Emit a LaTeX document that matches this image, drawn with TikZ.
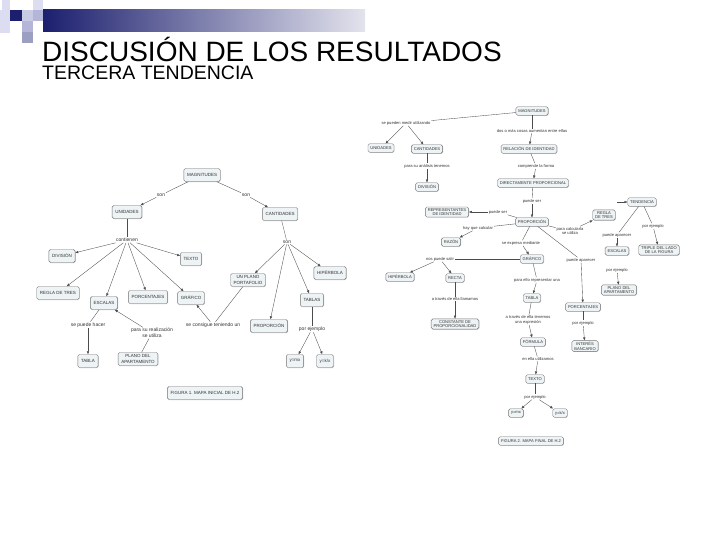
\documentclass[tikz,border=0pt]{standalone}
\usepackage{fontspec}
\setmainfont{Liberation Sans}
\usetikzlibrary{arrows.meta,shadows}
\definecolor{boxfill}{HTML}{EEF3F5}
\definecolor{navy}{HTML}{1C1F6E}
\definecolor{lav}{HTML}{C9CAE4}
\definecolor{lavlt}{HTML}{DCDDF0}
\definecolor{lavmd}{HTML}{B4B5D8}
\definecolor{midg}{HTML}{9C9EC2}
\newcommand\mapL{\fontsize{4.5}{5.2}\selectfont}
\newcommand\lblL{\fontsize{5}{5.8}\selectfont}
\newcommand\mapR{\fontsize{4.1}{4.8}\selectfont}
\tikzset{
  boxbase/.style={draw=black!55, line width=0.4pt, fill=boxfill, rounded corners=1.6pt,
    align=center, text=black!80,
    drop shadow={shadow xshift=0.5pt, shadow yshift=-0.6pt, opacity=0.45}},
  boxL/.style={boxbase, font=\mapL, inner xsep=3.2pt, inner ysep=1.5pt, minimum height=13pt},
  boxR/.style={boxbase, font=\mapR, inner xsep=2.4pt, inner ysep=1.2pt, minimum height=8.5pt},
  lblLs/.style={font=\lblL, inner sep=0.8pt, align=center, text=black!80, fill=white},
  lblRs/.style={font=\mapR, inner sep=0.7pt, align=center, text=black!80, fill=white},
  con/.style={draw=black!70, line width=0.35pt},
  arr/.style={con, -{Latex[length=3pt,width=2.6pt]}},
}
\begin{document}
\begin{tikzpicture}[x=1pt,y=-1pt]
\useasboundingbox (0,0) rectangle (720,540);
\fill[white] (0,0) rectangle (720,540);
% header decoration
\fill[lavlt] (0,10) rectangle (10,33);
\fill[lavlt] (2,0) rectangle (10,10);
\fill[lavlt] (33,0) rectangle (43,10);
\fill[lav] (22,10) rectangle (33,21);
\fill[lavmd] (33,10) rectangle (43,21);
\fill[lavmd] (22,21) rectangle (33,32);
\fill[midg] (22,32) rectangle (33,43);
\fill[navy] (10,10) rectangle (22,21);
\shade[left color=navy, right color=black!8!lav!40] (43,10) rectangle (365,32);
% titles
\node[anchor=base west, inner sep=0, text depth=0pt, font=\fontsize{28}{30}\selectfont] (title) at (42,62) {DISCUSIÓN DE LOS RESULTADOS};
\node[anchor=base west, inner sep=0, text height=14pt, font=\fontsize{19.5}{21}\selectfont] (sub) at (42,80) {TERCERA TENDENCIA};

% ================= LEFT MAP =================
\node[boxL] (mA) at (202,175) {MAGNITUDES};
\node[lblLs] (ls1) at (161,195) {son};
\node[lblLs] (ls2) at (246,195) {son};
\node[boxL] (uA) at (127,212) {UNIDADES};
\node[boxL] (cA) at (280,214) {CANTIDADES};
\node[lblLs] (lcont) at (127,240) {contienen};
\node[boxL] (dA) at (62,256) {DIVISIÓN};
\node[boxL] (tA) at (191,259) {TEXTO};
\node[boxL] (rA) at (58,293) {REGLA DE TRES};
\node[boxL] (eA) at (104,303) {ESCALAS};
\node[boxL] (pA) at (148,297) {PORCENTAJES};
\node[boxL] (gA) at (191,298) {GRÁFICO};
\node[lblLs] (lse) at (287,242) {son};
\node[boxL] (upA) at (248,280) {UN PLANO\\PORTAFOLIO};
\node[boxL] (hA) at (330,273) {HIPÉRBOLA};
\node[boxL] (tbA) at (312,300) {TABLAS};
\node[boxL] (prA) at (269,326) {PROPORCIÓN};
\node[lblLs] (lhac) at (88,325) {se puede hacer};
\node[lblLs] (lreal) at (152,333) {para su realización\\se utiliza};
\node[lblLs] (lcons) at (213,325) {se consigue teniendo un};
\node[lblLs] (lej) at (312,329) {por ejemplo};
\node[boxL] (tlA) at (88,361) {TABLA};
\node[boxL] (plA) at (138,359) {PLANO DEL\\APARTAMENTO};
\node[boxL] (y1A) at (295,361) {y=mx};
\node[boxL] (y2A) at (325,361) {y=k/x};
\node[boxL] (fig1) at (205,393) {FIGURA 1. MAPA INICIAL DE H.2};

\draw[con] (mA) -- (ls1); \draw[arr] (ls1) -- (uA);
\draw[con] (mA) -- (ls2); \draw[arr] (ls2) -- (cA);
\draw[con] (uA) -- (lcont);
\foreach \t in {dA,tA,rA,eA,pA,gA} \draw[arr] (lcont) -- (\t);
\draw[con] (cA) -- (lse);
\foreach \t in {upA,prA,tbA,hA} \draw[arr] (lse) -- (\t);
\draw[con] (eA) -- (lhac); \draw[arr] (lhac) -- (tlA);
\draw[con] (plA) -- (lreal); \draw[arr] (lreal) -- (eA);
\draw[con] (upA) -- (lcons); \draw[arr] (lcons) -- (gA);
\draw[con] (tbA) -- (lej); \draw[arr] (lej) -- (y1A); \draw[arr] (lej) -- (y2A);

% ================= RIGHT MAP =================
\node[boxR] (mB) at (532,111) {MAGNITUDES};
\node[lblRs] (lmed) at (406,123) {se pueden medir utilizando};
\node[lblRs] (ldos) at (532,131) {dos o más cosas aumentan entre ellas};
\node[boxR] (uB) at (381,148) {UNIDADES};
\node[boxR] (cB) at (427,149) {CANTIDADES};
\node[boxR] (relB) at (529,149) {RELACIÓN DE IDENTIDAD};
\node[lblRs] (lan) at (427,166) {para su análisis tenemos};
\node[lblRs] (lcomp) at (536,166) {comprende la forma};
\node[boxR] (dvB) at (427,187) {DIVISIÓN};
\node[boxR] (dpB) at (533,183) {DIRECTAMENTE PROPORCIONAL};
\node[lblRs] (lps) at (532,201) {puede ser};
\node[boxR] (prB) at (532,222) {PROPORCIÓN};
\node[boxR] (rzB) at (447,212) {REPRESENTANTES\\DE IDENTIDAD};
\node[lblRs] (lpe) at (498,212) {puede ser};
\node[lblRs] (lcalc) at (478,228) {hay que calcular};
\node[boxR] (rB) at (451,242) {RAZÓN};
\node[lblRs] (lexp) at (521,243) {se expresa mediante};
\node[boxR] (gB) at (532,259) {GRÁFICO};
\node[lblRs] (lcu) at (570,231) {para calcularla\\se utiliza};
\node[boxR] (rtB) at (604,215) {REGLA\\DE TRES};
\coordinate (tin) at (617,202);
\node[boxR] (tdB) at (642,202) {TENDENCIA};
\node[lblRs] (lapp) at (617,235) {puede aparecer};
\node[boxR] (esB) at (617,251) {ESCALAS};
\node[lblRs] (lej1) at (653,226) {por ejemplo};
\node[boxR] (trB) at (659,250) {TRIPLE DEL LADO\\DE LA FIGURA};
\node[lblRs] (lapp2) at (581,260) {puede aparecer};
\node[lblRs] (lej2) at (617,270) {por ejemplo};
\node[boxR] (plB) at (619,290) {PLANO DEL\\APARTAMENTO};
\node[lblRs] (lsal) at (440,259) {nos puede salir};
\node[boxR] (hB) at (400,277) {HIPÉRBOLA};
\node[boxR] (reB) at (455,278) {RECTA};
\node[lblRs] (lrep) at (537,280) {para ello representar una};
\node[boxR] (tbB) at (532,298) {TABLA};
\node[lblRs] (llam) at (455,299) {a través de ella llamamos};
\node[boxR] (ctB) at (455,324) {CONSTANTE DE\\PROPORCIONALIDAD};
\node[lblRs] (lten) at (528,320) {a través de ella tenemos\\una expresión};
\node[boxR] (pcB) at (583,307) {PORCENTAJES};
\node[lblRs] (lej3) at (583,323) {por ejemplo};
\node[boxR] (ibB) at (585,346) {INTERÉS\\BANCARIO};
\node[boxR] (foB) at (533,342) {FÓRMULA};
\node[lblRs] (lut) at (538,359) {en ella utilizamos};
\node[boxR] (txB) at (535,379) {TEXTO};
\node[lblRs] (lej4) at (535,397) {por ejemplo};
\node[boxR] (y1B) at (516,413) {y=mx};
\node[boxR] (y2B) at (560,413) {y=k/x};
\node[boxR] (fig2) at (531,441) {FIGURA 2. MAPA FINAL DE H.2};

\draw[con] (mB) -- (lmed); \draw[arr] (lmed) -- (uB); \draw[arr] (lmed) -- (cB);
\draw[con] (mB) -- (ldos); \draw[arr] (ldos) -- (relB);
\draw[con] (relB) -- (lcomp); \draw[arr] (lcomp) -- (dpB);
\draw[con] (dpB) -- (lps); \draw[arr] (lps) -- (prB);
\draw[con] (cB) -- (lan); \draw[arr] (lan) -- (dvB);
\draw[con] (prB) -- (lpe); \draw[arr] (lpe) -- (rzB);
\draw[con] (prB) -- (lcalc); \draw[arr] (lcalc) -- (rB);
\draw[con] (prB) -- (lexp); \draw[arr] (lexp) -- (gB);
\draw[con] (prB) -- (lcu); \draw[arr] (lcu) -- (rtB);
\draw[con] (prB) -- (lapp2); \draw[arr] (lapp2) -- (pcB);
\draw[arr] (tin) -- (tdB);
\draw[con] (tdB) -- (lapp); \draw[arr] (lapp) -- (esB);
\draw[con] (tdB) -- (lej1); \draw[arr] (lej1) -- (trB);
\draw[arr] (lej2) -- (plB);
\draw[con] (gB) -- (lsal); \draw[arr] (lsal) -- (hB); \draw[arr] (lsal) -- (reB);
\draw[con] (gB) -- (lrep); \draw[arr] (lrep) -- (tbB);
\draw[con] (reB) -- (llam); \draw[arr] (llam) -- (ctB);
\draw[con] (tbB) -- (lten); \draw[arr] (lten) -- (foB);
\draw[con] (foB) -- (lut); \draw[arr] (lut) -- (txB);
\draw[con] (txB) -- (lej4); \draw[arr] (lej4) -- (y1B); \draw[arr] (lej4) -- (y2B);
\draw[con] (pcB) -- (lej3); \draw[arr] (lej3) -- (ibB);
\end{tikzpicture}
\end{document}
